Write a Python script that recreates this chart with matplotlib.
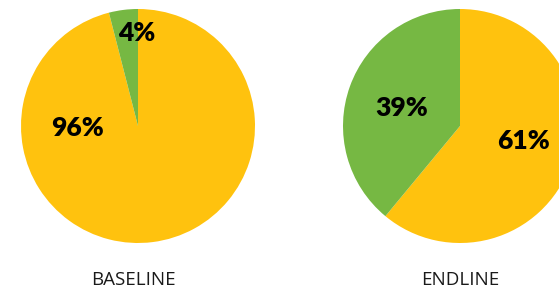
import matplotlib
matplotlib.use("Agg")
import matplotlib.pyplot as plt

# data
titles = ["BASELINE", "ENDLINE"]
yellow_vals = [96, 61]
green_vals = [4, 39]
colors = ["#FFC20E", "#76B843"]

# layout in pixels (x from left, y from top)
centers = [(138, 126), (460, 126)]
radius = 117
# label positions (px) per pie: [yellow, green]
label_pos = [[(77, 128), (137, 33)], [(523, 141), (402, 108)]]

W, H = 559, 290
fig = plt.figure(figsize=(W / 100, H / 100), dpi=100)
ax = fig.add_axes([0, 0, 1, 1])
ax.set_xlim(0, W)
ax.set_ylim(0, H)
ax.set_aspect("equal")
ax.axis("off")

for i in range(2):
    cx, cy = centers[i]
    vals = [yellow_vals[i], green_vals[i]]
    ax.pie(vals, colors=colors, startangle=90, counterclock=False,
           center=(cx, H - cy), radius=radius, frame=True,
           wedgeprops=dict(linewidth=0))
    for v, (lx, ly) in zip(vals, label_pos[i]):
        ax.text(lx, H - ly, f"{v}%", ha="center", va="center",
                fontsize=19, fontweight="heavy", family="Lato", color="black")
    ax.text(cx - 5 if i == 0 else cx, H - 280, titles[i], ha="center", va="center",
            fontsize=13.5, family="Open Sans", color="#1a1a1a")

ax.set_xlim(0, W)
ax.set_ylim(0, H)
ax.axis("off")
fig.savefig("out.png", dpi=100)
